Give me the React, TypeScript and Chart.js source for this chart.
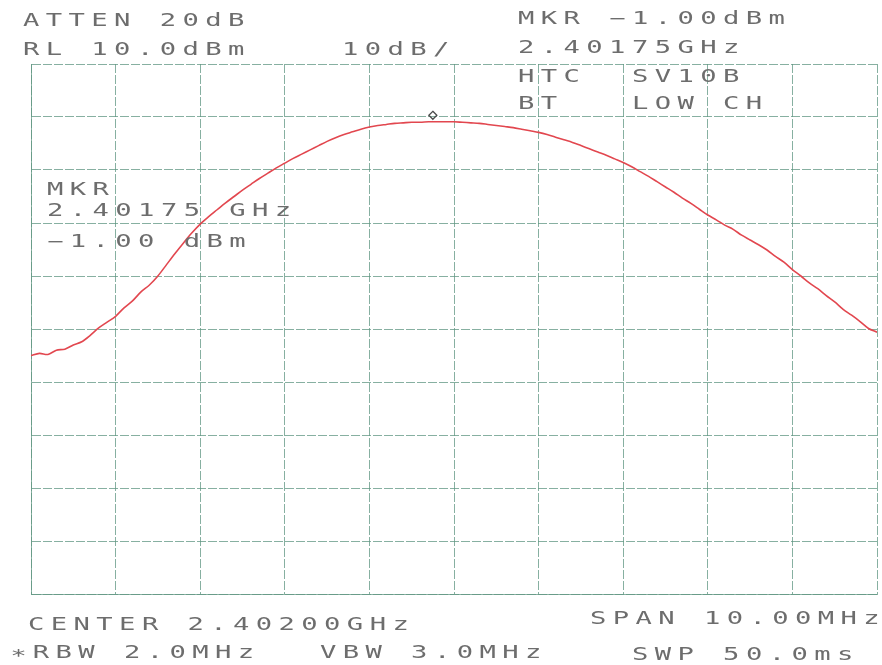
import React, { useEffect, useRef } from "react";
import { Chart, registerables } from "chart.js";

Chart.register(...registerables);

// Frequency axis (MHz): center 2402 MHz, span 10 MHz
const startMHz = 2397;
const stopMHz = 2407;
const stepMHz = 0.1;
// Amplitude axis (dBm): RL 10 dBm, 10 dB/div, 10 divisions
const refLevel = 10;
const bottomLevel = -90;
const dbPerDiv = 10;

// Trace amplitude readings, dBm, one every 0.1 MHz from 2397.0 to 2407.0 MHz
const traceDbm = [
  -45.0, -44.6, -44.8, -44.0, -43.8, -43.0, -42.4, -41.2, -39.8, -38.7,
  -37.6, -36.0, -34.7, -33.0, -31.7, -30.0, -27.9, -25.8, -23.8, -21.9,
  -20.2, -18.8, -17.5, -16.2, -15.0, -13.8, -12.7, -11.6, -10.6, -9.6,
  -8.7, -7.8, -7.0, -6.2, -5.4, -4.6, -3.9, -3.3, -2.8, -2.3,
  -1.9, -1.6, -1.4, -1.2, -1.1, -1.0, -1.0, -0.9, -0.9, -0.9,
  -0.9, -1.0, -1.1, -1.2, -1.4, -1.6, -1.8, -2.0, -2.3, -2.6,
  -2.9, -3.3, -3.8, -4.3, -4.8, -5.4, -6.0, -6.6, -7.2, -7.9,
  -8.6, -9.4, -10.3, -11.2, -12.2, -13.2, -14.2, -15.3, -16.3, -17.4,
  -18.5, -19.4, -20.4, -21.2, -22.3, -23.2, -24.1, -25.1, -26.3, -27.4,
  -28.8, -30.0, -31.3, -32.4, -33.7, -34.9, -36.3, -37.4, -38.6, -39.9,
  -40.6,
];
const traceFreqMHz = traceDbm.map((_, i) => +(startMHz + i * stepMHz).toFixed(1));

// Marker
const markerFreqMHz = 2401.75;
const markerDbm = -1.0;

// Annotation texts
const topLeftLines = ["ATTEN 20dB", "RL 10.0dBm"];
const scaleText = "10dB/";
const topRightLines = ["MKR \u22121.00dBm", "2.40175GHz", "HTC  SV10B", "BT   LOW CH"];
const markerLines = ["MKR", "2.40175 GHz", "\u22121.00 dBm"];
const bottomLeftLines = ["CENTER 2.40200GHz", "\u2217RBW 2.0MHz"];
const bottomMidText = "VBW 3.0MHz";
const bottomRightLines = ["SPAN 10.00MHz", "SWP 50.0ms"];

const GRID = "rgba(95,150,130,0.75)";
const TEXT = "#6d6d6d";

const markerPlugin = {
  id: "markerDiamond",
  afterDatasetsDraw(chart: any) {
    const { ctx, scales } = chart;
    const x = scales.x.getPixelForValue(markerFreqMHz);
    const y = scales.y.getPixelForValue(markerDbm) - 7;
    ctx.save();
    ctx.strokeStyle = "#4a4a4a";
    ctx.lineWidth = 1.3;
    ctx.beginPath();
    ctx.moveTo(x, y - 4);
    ctx.lineTo(x + 4, y);
    ctx.lineTo(x, y + 4);
    ctx.lineTo(x - 4, y);
    ctx.closePath();
    ctx.stroke();
    ctx.restore();
  },
};

function Txt({ x, y, text }: { x: number; y: number; text: string }) {
  return (
    <div
      style={{
        position: "absolute",
        left: x,
        top: y - 2,
        fontFamily: "'DejaVu Sans Mono', monospace",
        fontSize: 17,
        lineHeight: "17px",
        color: TEXT,
        whiteSpace: "pre",
        letterSpacing: "4px",
        transform: "scaleX(1.6)",
        transformOrigin: "0 0",
      }}
    >
      {text}
    </div>
  );
}

export default function App() {
  const ref = useRef<HTMLCanvasElement>(null);
  useEffect(() => {
    document.body.style.margin = "0";
    const c = ref.current!;
    const chart = new Chart(c, {
      type: "line",
      data: {
        datasets: [
          {
            data: traceFreqMHz.map((f, i) => ({ x: f, y: traceDbm[i] })),
            borderColor: "#e2474f",
            borderWidth: 1.6,
            pointRadius: 0,
            tension: 0.3,
            fill: false,
          },
        ],
      },
      options: {
        animation: false,
        responsive: false,
        events: [],
        layout: { padding: { left: 31, right: 5, top: 64, bottom: 71 } },
        plugins: { legend: { display: false }, tooltip: { enabled: false } },
        scales: {
          x: {
            type: "linear",
            min: startMHz,
            max: stopMHz,
            ticks: { display: false, stepSize: 1 },
            grid: { color: GRID, lineWidth: 1, drawTicks: false, tickLength: 0 },
            border: { display: true, color: GRID, dash: [9, 2] },
          },
          y: {
            min: bottomLevel,
            max: refLevel,
            ticks: { display: false, stepSize: dbPerDiv },
            grid: { color: GRID, lineWidth: 1, drawTicks: false, tickLength: 0 },
            border: { display: true, color: GRID, dash: [9, 2] },
          },
        },
      },
      plugins: [markerPlugin],
    });
    return () => chart.destroy();
  }, []);

  return (
    <div style={{ position: "relative", width: 882, height: 665, background: "#fff" }}>
      <canvas ref={ref} width={882} height={665} style={{ display: "block" }} />
      <Txt x={23} y={14} text={topLeftLines[0]} />
      <Txt x={23} y={43} text={topLeftLines[1]} />
      <Txt x={342} y={43} text={scaleText} />
      <Txt x={518} y={12} text={topRightLines[0]} />
      <Txt x={518} y={41} text={topRightLines[1]} />
      <Txt x={518} y={70} text={topRightLines[2]} />
      <Txt x={518} y={97} text={topRightLines[3]} />
      <Txt x={47} y={183} text={markerLines[0]} />
      <Txt x={47} y={204} text={markerLines[1]} />
      <Txt x={47} y={235} text={markerLines[2]} />
      <Txt x={28} y={618} text={bottomLeftLines[0]} />
      <Txt x={10} y={646} text={bottomLeftLines[1]} />
      <Txt x={320} y={646} text={bottomMidText} />
      <Txt x={590} y={612} text={bottomRightLines[0]} />
      <Txt x={632} y={648} text={bottomRightLines[1]} />
    </div>
  );
}
